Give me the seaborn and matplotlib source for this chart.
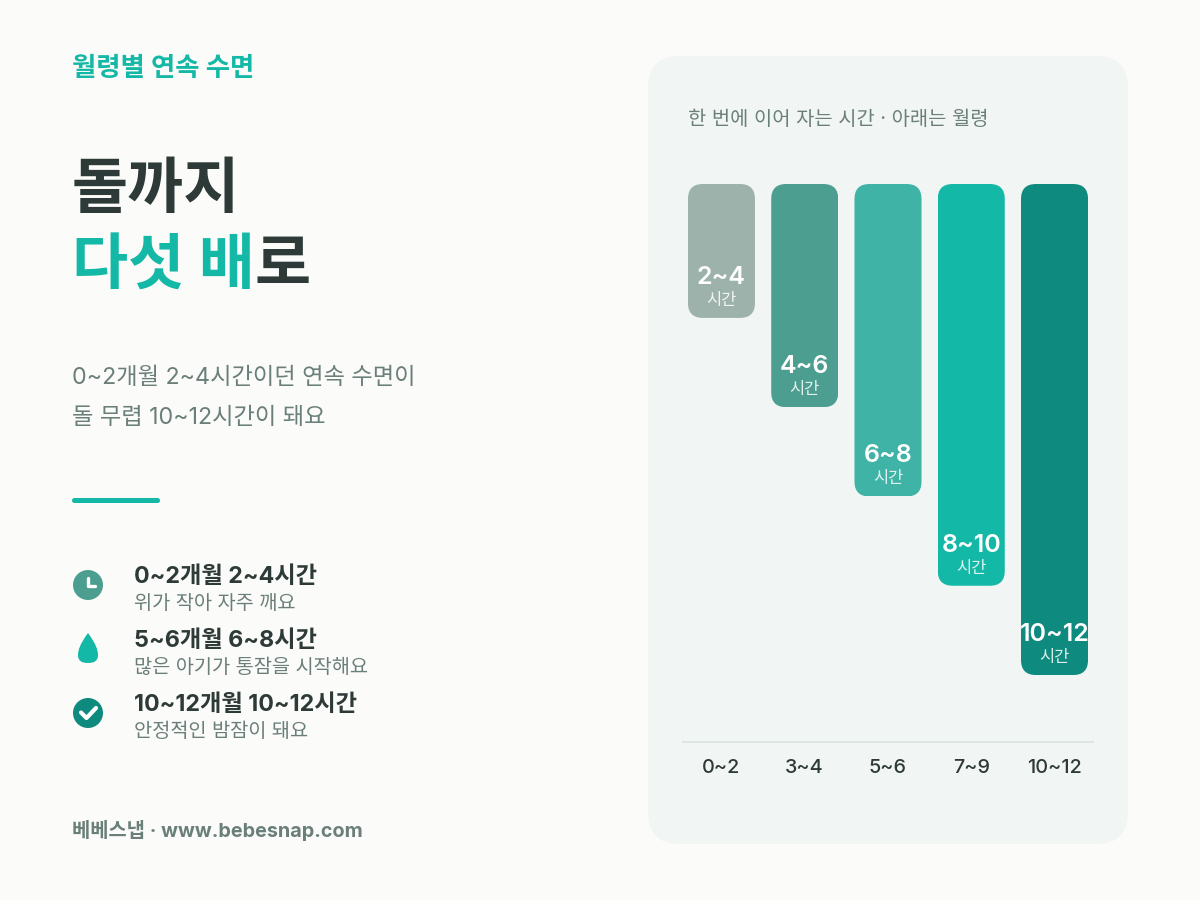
import matplotlib
matplotlib.use("Agg")
import matplotlib.pyplot as plt
import seaborn as sns
import pandas as pd
from matplotlib.patches import FancyBboxPatch, Circle, PathPatch
from matplotlib.path import Path
from matplotlib.transforms import IdentityTransform

months = ["0~2", "3~4", "5~6", "7~9", "10~12"]
mid_hours = [3, 5, 7, 9, 11]
range_labels = ["2~4", "4~6", "6~8", "8~10", "10~12"]
bar_colors = ["#9DB2AB", "#4C9E91", "#3FB3A5", "#14B8A6", "#0F8A7E"]
legend_heads = ["0~2개월 2~4시간", "5~6개월 6~8시간", "10~12개월 10~12시간"]
legend_subs = ["위가 작아 자주 깨요", "많은 아기가 통잠을 시작해요", "안정적인 밤잠이 돼요"]

BG = "#FBFBF9"; PANEL = "#F1F5F4"; DARK = "#2D3A38"; GREY = "#6B7F7A"; TEAL = "#14B8A6"
FONT = ["Inter", "Noto Sans CJK KR", "DejaVu Sans"]

sns.set_theme(style="white")
plt.rcParams["font.family"] = FONT
fig = plt.figure(figsize=(12, 9), dpi=100, facecolor=BG)
bg = fig.add_axes([0, 0, 1, 1])
bg.set_xlim(0, 1200); bg.set_ylim(900, 0); bg.axis("off")

def T(x, y, s, px, color=DARK, weight="normal", ha="left"):
    return bg.text(x, y, s, fontsize=px * 0.72, color=color, fontweight=weight, ha=ha, va="baseline")

def rbox(x0, y0, x1, y1, r, color, ax=bg, **kw):
    p = FancyBboxPatch((x0 + r, y0 + r), x1 - x0 - 2 * r, y1 - y0 - 2 * r,
                       boxstyle=f"round,pad={r},rounding_size={r}", fc=color, ec="none", **kw)
    ax.add_patch(p)
    return p

rbox(648, 56, 1128, 844, 32, PANEL)

T(72, 76, "월령별 연속 수면", 26.4, TEAL, "bold")
T(72, 208, "돌까지", 61, DARK, "bold")
T(72, 284, "다섯 배", 61, TEAL, "bold")
T(254.5, 284, "로", 61, DARK, "bold")
T(72, 384.5, "0~2개월 2~4시간이던 연속 수면이", 23.3, GREY)
T(72, 423.5, "돌 무렵 10~12시간이 돼요", 23.3, GREY)
rbox(72, 498, 160, 503, 2.5, TEAL)

for y, h, s in zip([583, 647, 711], legend_heads, legend_subs):
    T(134, y, h, 23.3, DARK, "bold")
    T(134, y + 26, s, 19.75, GREY)

# clock icon
bg.add_patch(Circle((88, 585), 15, fc="#4C9E91", ec="none"))
bg.plot([88, 88, 95], [578, 586, 586], color="white", lw=2.4, solid_capstyle="round", solid_joinstyle="round")
# drop icon
drop = Path([(88, 633), (96, 644), (98, 650), (98, 655), (98, 661), (94, 663), (88, 663),
             (82, 663), (78, 661), (78, 655), (78, 650), (80, 644), (88, 633)],
            [Path.MOVETO] + [Path.CURVE4] * 12)
bg.add_patch(PathPatch(drop, fc=TEAL, ec="none"))
# check icon
bg.add_patch(Circle((88, 713), 15, fc="#0F8A7E", ec="none"))
bg.plot([81, 86.5, 96], [712.5, 718, 708], color="white", lw=3, solid_capstyle="round", solid_joinstyle="round")

T(72, 837, "베베스냅 · www.bebesnap.com", 19.8, GREY, "bold")
T(688, 125, "한 번에 이어 자는 시간 · 아래는 월령", 19.8, GREY)

# chart
ax = fig.add_axes([682 / 1200, 1 - 742 / 900, 412 / 1200, 558 / 900])
ax.patch.set_alpha(0)
df = pd.DataFrame({"month": months, "hours": mid_hours})
sns.barplot(data=df, x="month", y="hours", hue="month", palette=bar_colors, order=months,
            hue_order=months, legend=False, width=0.805, saturation=1, ax=ax)
ax.set_xlim(-0.474, 4.474)
ax.set_ylim(12.5, 0)
ax.set_xlabel(""); ax.set_ylabel(""); ax.set_yticks([])
for s in ["top", "left", "right"]:
    ax.spines[s].set_visible(False)
ax.spines["bottom"].set_color("#DDE5E3"); ax.spines["bottom"].set_linewidth(1.44)
ax.spines["bottom"].set_capstyle("butt")
ax.tick_params(axis="x", length=0, pad=12.5, labelsize=19.8 * 0.72, labelcolor=DARK)
for l in ax.get_xticklabels():
    l.set_fontweight("medium")

fig.canvas.draw()
for bar in ax.patches:
    e = bar.get_window_extent()
    r = 15
    clip = FancyBboxPatch((e.x0 + r, e.y0 + r), e.width - 2 * r, e.height - 2 * r,
                          boxstyle=f"round,pad={r},rounding_size={r}", transform=IdentityTransform())
    bar.set_clip_path(clip)
    bar.set_edgecolor("none")

for i, (v, lab) in enumerate(zip(mid_hours, range_labels)):
    ax.annotate(lab, (i, v), xytext=(0, 34 * 0.72), textcoords="offset points", ha="center", va="baseline",
                color="white", fontweight="semibold", fontsize=25 * 0.72)
    ax.annotate("시간", (i, v), xytext=(0, 13 * 0.72), textcoords="offset points", ha="center", va="baseline",
                color="#FFFFFF", alpha=0.85, fontsize=16.5 * 0.72)

fig.savefig("out.png", dpi=100, facecolor=BG)
